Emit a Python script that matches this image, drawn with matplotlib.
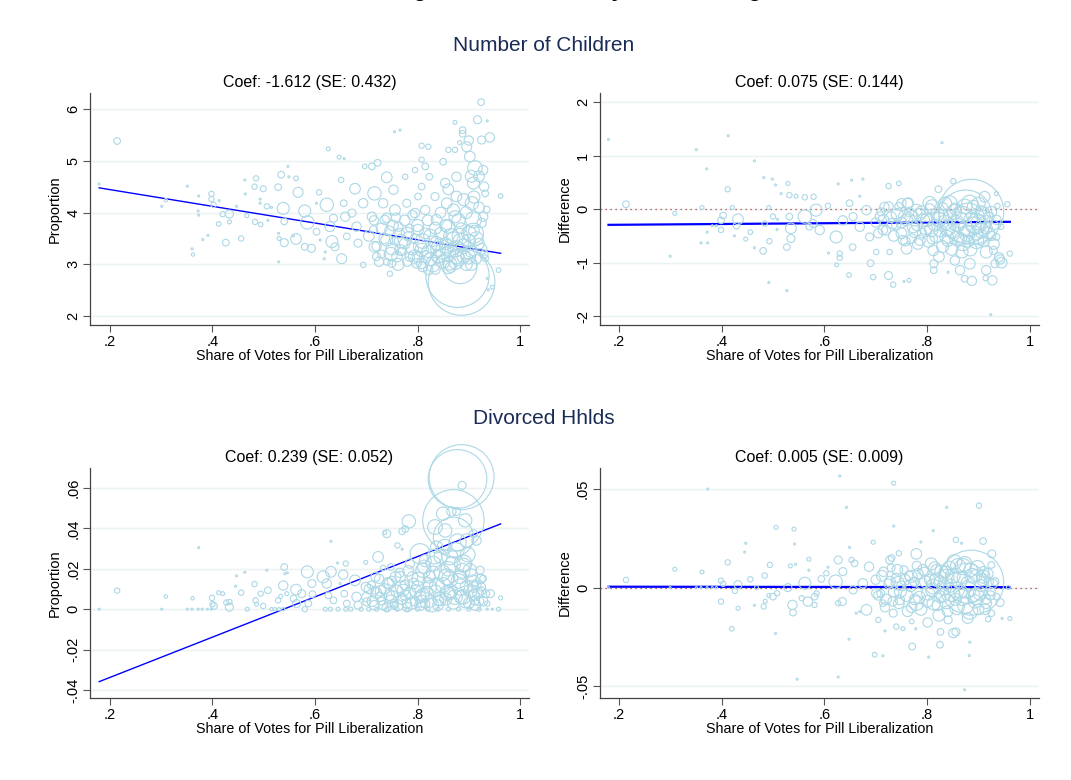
import matplotlib.pyplot as plt
import numpy as np

plt.rcParams['font.family'] = ['Liberation Sans', 'DejaVu Sans']

# x axis is shared by all panels
x_ticks = [0.2, 0.4, 0.6, 0.8, 1.0]
x_labels = ['.2', '.4', '.6', '.8', '1']

# points as (vote share, outcome, weight)
children_levels = [
    (0.179, 4.55, 9), (0.214, 5.38, 100), (0.301, 4.12, 9), (0.309, 4.24, 25), (0.351, 4.51, 9),
    (0.373, 4.32, 9), (0.372, 4.03, 9), (0.373, 3.95, 9), (0.360, 3.30, 9), (0.362, 3.19, 25),
    (0.381, 3.48, 9), (0.391, 3.56, 9), (0.398, 4.36, 64), (0.398, 4.26, 64), (0.402, 4.15, 64),
    (0.413, 4.23, 9), (0.420, 3.97, 64), (0.433, 3.97, 144), (0.433, 3.82, 36), (0.412, 3.78, 49),
    (0.426, 3.42, 100), (0.447, 4.12, 9), (0.456, 3.50, 64), (0.463, 4.63, 9), (0.464, 4.36, 9),
    (0.467, 3.94, 36), (0.485, 4.66, 64), (0.482, 4.50, 64), (0.493, 4.26, 9), (0.493, 4.18, 9),
    (0.483, 3.82, 64), (0.494, 3.77, 49), (0.499, 4.46, 81), (0.506, 4.12, 64), (0.508, 3.85, 9),
    (0.515, 4.10, 9), (0.528, 4.49, 100), (0.534, 4.73, 100), (0.547, 4.89, 9), (0.549, 4.69, 9),
    (0.563, 4.66, 49), (0.538, 4.08, 324), (0.529, 3.60, 9), (0.530, 3.50, 36), (0.529, 3.05, 9),
    (0.540, 3.42, 144), (0.540, 3.83, 100), (0.558, 3.55, 9), (0.567, 4.39, 225), (0.563, 3.49, 256),
    (0.580, 4.03, 324), (0.585, 3.81, 400), (0.580, 3.34, 100), (0.593, 3.31, 144), (0.608, 4.39, 64),
    (0.603, 4.18, 9), (0.603, 3.63, 100), (0.610, 3.47, 9), (0.620, 3.24, 9), (0.618, 3.11, 9),
    (0.626, 5.23, 36), (0.623, 4.15, 400), (0.629, 3.73, 225), (0.633, 3.44, 324), (0.636, 3.89, 144),
    (0.639, 3.34, 144), (0.647, 5.07, 36), (0.657, 5.04, 9), (0.651, 4.63, 64), (0.652, 3.11, 225),
    (0.656, 4.18, 100), (0.659, 3.92, 196), (0.662, 3.54, 100), (0.672, 3.99, 144), (0.678, 4.46, 256),
    (0.681, 3.73, 196), (0.684, 3.41, 144), (0.694, 4.18, 196), (0.694, 2.99, 64), (0.697, 4.89, 49),
    (0.711, 4.89, 100), (0.722, 4.96, 100), (0.716, 4.37, 400), (0.711, 3.92, 196), (0.714, 3.67, 144),
    (0.716, 3.34, 256), (0.720, 3.15, 144), (0.740, 4.68, 256), (0.733, 4.18, 196), (0.736, 3.86, 196),
    (0.740, 3.47, 324), (0.746, 2.82, 64), (0.753, 4.44, 196), (0.750, 3.02, 144), (0.755, 5.56, 9),
    (0.766, 5.59, 9), (0.756, 4.05, 256), (0.763, 3.73, 196), (0.766, 3.28, 256), (0.776, 4.69, 64),
    (0.779, 4.18, 144), (0.782, 3.54, 196), (0.785, 3.15, 196), (0.795, 4.82, 64), (0.795, 3.99, 196),
    (0.798, 3.02, 196), (0.808, 5.29, 64), (0.821, 5.27, 64), (0.808, 5.02, 64), (0.815, 4.89, 100),
    (0.808, 4.50, 100), (0.801, 4.31, 100), (0.815, 4.05, 196), (0.801, 3.67, 256), (0.808, 3.28, 400),
    (0.808, 3.02, 256), (0.821, 2.89, 196), (0.823, 4.69, 100), (0.834, 4.31, 144), (0.837, 3.86, 256),
    (0.837, 3.41, 400), (0.841, 3.15, 324), (0.850, 4.98, 100), (0.854, 4.57, 196), (0.857, 4.18, 256),
    (0.860, 3.73, 400), (0.857, 3.34, 484), (0.863, 3.02, 400), (0.860, 5.21, 64), (0.873, 5.21, 64),
    (0.873, 5.74, 36), (0.882, 5.35, 36), (0.888, 5.59, 100), (0.888, 5.52, 100), (0.876, 4.69, 196),
    (0.876, 4.31, 256), (0.873, 3.92, 324), (0.883, 3.54, 576), (0.876, 3.15, 484), (0.896, 5.27, 225),
    (0.900, 5.39, 196), (0.902, 5.08, 256), (0.912, 4.86, 484), (0.909, 4.57, 324), (0.906, 4.18, 400),
    (0.909, 3.86, 576), (0.909, 3.60, 900), (0.899, 3.15, 484), (0.917, 5.79, 144), (0.924, 6.13, 100),
    (0.936, 5.77, 9), (0.925, 5.40, 144), (0.941, 5.45, 196), (0.928, 4.82, 196), (0.928, 3.92, 196),
    (0.935, 4.06, 100), (0.932, 4.37, 100), (0.932, 3.12, 100), (0.936, 2.73, 9), (0.938, 2.51, 9),
    (0.946, 2.56, 36), (0.958, 2.89, 49), (0.962, 4.32, 49),
    (0.720, 3.35, 196), (0.730, 3.20, 144), (0.735, 3.50, 256), (0.740, 3.05, 100), (0.745, 3.65, 196),
    (0.750, 3.30, 324), (0.755, 3.45, 144), (0.760, 3.15, 256), (0.765, 3.60, 196), (0.770, 3.25, 144),
    (0.775, 3.40, 256), (0.780, 3.05, 196), (0.785, 3.70, 144), (0.790, 3.30, 324), (0.795, 3.50, 196),
    (0.800, 3.15, 256), (0.805, 3.35, 400), (0.810, 2.95, 196), (0.815, 3.60, 256), (0.820, 3.25, 324),
    (0.825, 3.10, 400), (0.830, 3.45, 256), (0.835, 2.90, 196), (0.840, 3.30, 484), (0.845, 3.60, 324),
    (0.850, 3.05, 400), (0.855, 3.40, 324), (0.860, 3.20, 484), (0.865, 2.95, 256), (0.870, 3.50, 400),
    (0.875, 3.30, 576), (0.880, 3.10, 400), (0.885, 3.70, 256), (0.890, 3.35, 484), (0.895, 3.00, 324),
    (0.900, 3.45, 400), (0.905, 3.25, 324), (0.910, 3.65, 256), (0.915, 3.10, 196), (0.920, 3.40, 256),
    (0.925, 3.80, 196), (0.930, 3.20, 144),
    (0.705, 3.55, 256), (0.715, 3.85, 196), (0.725, 3.05, 196), (0.730, 3.70, 256), (0.740, 3.90, 196),
    (0.748, 3.20, 400), (0.752, 3.75, 256), (0.758, 3.90, 196), (0.762, 3.00, 324), (0.768, 3.45, 400),
    (0.775, 3.85, 256), (0.780, 3.60, 324), (0.790, 3.95, 196), (0.795, 3.15, 400), (0.800, 3.75, 324),
    (0.810, 3.45, 484), (0.815, 3.15, 324), (0.820, 3.85, 256), (0.825, 3.55, 400), (0.830, 3.00, 484),
    (0.835, 3.70, 324), (0.840, 3.15, 400), (0.845, 4.00, 256), (0.850, 3.25, 576), (0.855, 3.75, 324),
    (0.860, 2.95, 400), (0.865, 3.55, 484), (0.870, 4.05, 324), (0.875, 3.05, 484), (0.880, 3.85, 400),
    (0.885, 3.45, 576), (0.890, 3.15, 400), (0.895, 4.00, 324), (0.900, 3.60, 484), (0.905, 3.00, 324),
    (0.910, 4.30, 324), (0.915, 3.50, 400), (0.920, 4.10, 256), (0.925, 3.30, 256), (0.930, 4.50, 196),
    (0.860, 4.45, 256), (0.890, 4.25, 324), (0.905, 4.70, 324), (0.920, 4.70, 256),
    (0.878, 2.78, 9000), (0.886, 2.66, 10000), (0.883, 2.95, 2500),
]

children_diff = [
    (0.180, 1.30, 9), (0.214, 0.09, 100), (0.300, -0.88, 9), (0.309, -0.08, 36), (0.351, 1.11, 9),
    (0.371, 0.75, 9), (0.362, 0.03, 36), (0.360, -0.63, 9), (0.373, -0.63, 9), (0.372, -0.43, 9),
    (0.382, -0.31, 9), (0.390, -0.31, 9), (0.399, -0.39, 64), (0.399, -0.21, 100), (0.403, -0.12, 100),
    (0.412, 0.37, 64), (0.413, 1.37, 9), (0.421, 0.03, 36), (0.425, -0.50, 9), (0.432, -0.19, 256),
    (0.429, -0.31, 100), (0.447, -0.56, 36), (0.456, -0.43, 49), (0.464, 0.90, 9), (0.464, -0.72, 9),
    (0.481, -0.78, 100), (0.482, 0.59, 9), (0.492, 0.03, 36), (0.484, -0.27, 64), (0.493, -0.60, 64),
    (0.492, -1.37, 9), (0.499, 0.56, 9), (0.505, 0.45, 9), (0.500, -0.14, 64), (0.509, -0.19, 9),
    (0.508, -0.38, 9), (0.516, 0.29, 9), (0.529, 0.48, 36), (0.527, -0.71, 100), (0.527, -1.52, 9),
    (0.532, 0.26, 64), (0.535, -0.55, 144), (0.535, -0.36, 256), (0.532, -0.14, 100), (0.545, 0.24, 36),
    (0.562, 0.22, 64), (0.579, 0.23, 64), (0.562, -0.14, 400), (0.578, -0.27, 144), (0.584, -0.02, 324),
    (0.591, -0.39, 196), (0.571, -0.33, 100), (0.607, 0.06, 64), (0.608, -0.82, 9), (0.623, -0.52, 324),
    (0.630, -0.83, 64), (0.630, -0.91, 64), (0.624, -1.04, 36), (0.627, 0.47, 9), (0.636, -0.21, 196),
    (0.648, -1.23, 49), (0.653, 0.54, 9), (0.649, 0.11, 100), (0.656, -0.14, 144), (0.655, -0.71, 100),
    (0.669, 0.24, 9), (0.675, 0.56, 9), (0.669, -0.33, 196), (0.682, -0.02, 196), (0.688, -0.52, 144),
    (0.695, -1.27, 64), (0.690, -1.01, 100), (0.701, -0.80, 64), (0.708, -0.14, 196), (0.714, -0.39, 196),
    (0.717, 0.04, 196), (0.725, -1.24, 144), (0.725, 0.43, 64), (0.727, -0.80, 64), (0.734, -1.41, 64),
    (0.733, -0.27, 256), (0.745, 0.48, 49), (0.750, 0.11, 196), (0.753, -0.58, 196), (0.756, -0.14, 324),
    (0.755, -1.35, 9), (0.765, -1.33, 36), (0.763, 0.11, 256), (0.760, -0.74, 256), (0.773, -0.33, 324),
    (0.779, -0.02, 324), (0.786, -0.58, 256), (0.792, -0.21, 400), (0.805, 0.11, 400), (0.808, -0.39, 400),
    (0.812, -0.77, 256), (0.813, -1.02, 144), (0.813, -1.14, 100), (0.822, 0.37, 100), (0.829, 1.24, 9),
    (0.823, -0.89, 256), (0.828, -0.14, 484), (0.841, -1.18, 9), (0.838, -0.52, 400), (0.844, 0.11, 484),
    (0.851, 0.52, 64), (0.854, -0.96, 196), (0.864, -1.14, 196), (0.857, -0.27, 576), (0.870, -0.64, 484),
    (0.873, -1.30, 100), (0.887, -1.34, 196), (0.883, -1.02, 256), (0.883, 0.11, 576), (0.896, -0.27, 900),
    (0.903, -0.52, 576), (0.909, -0.08, 400), (0.912, 0.23, 256), (0.915, -1.14, 196), (0.914, -1.29, 64),
    (0.927, -1.33, 196), (0.924, -1.97, 9), (0.942, -0.94, 196), (0.932, -1.02, 144), (0.935, 0.29, 36),
    (0.929, -0.77, 144), (0.935, -0.52, 100), (0.944, -0.33, 64), (0.937, 0.06, 64), (0.956, 0.09, 64),
    (0.961, -0.83, 64),
    (0.700, -0.25, 196), (0.710, -0.05, 144), (0.720, -0.40, 196), (0.730, -0.15, 256), (0.740, -0.30, 196),
    (0.745, 0.05, 144), (0.750, -0.45, 256), (0.760, -0.20, 324), (0.765, -0.05, 196), (0.770, -0.55, 196),
    (0.780, -0.30, 256), (0.785, -0.10, 324), (0.790, -0.45, 196), (0.800, -0.20, 400), (0.805, 0.00, 256),
    (0.810, -0.55, 256), (0.815, -0.30, 324), (0.820, -0.10, 400), (0.825, -0.40, 324), (0.830, 0.02, 256),
    (0.835, -0.25, 484), (0.840, -0.60, 256), (0.845, -0.15, 400), (0.850, -0.40, 484), (0.855, 0.00, 324),
    (0.860, -0.30, 400), (0.865, -0.55, 324), (0.870, -0.10, 576), (0.875, -0.35, 484), (0.880, -0.60, 324),
    (0.885, -0.20, 400), (0.890, 0.05, 324), (0.895, -0.45, 400), (0.900, -0.25, 484), (0.905, -0.05, 324),
    (0.910, -0.60, 256), (0.915, -0.35, 324), (0.920, -0.15, 256), (0.925, -0.50, 196), (0.930, -0.30, 196),
    (0.705, -0.45, 196), (0.715, -0.20, 256), (0.725, 0.05, 196), (0.735, -0.50, 256), (0.742, -0.10, 324),
    (0.750, -0.25, 256), (0.758, -0.60, 196), (0.762, 0.10, 256), (0.770, -0.15, 400), (0.776, -0.42, 324),
    (0.782, -0.65, 256), (0.790, -0.05, 324), (0.797, -0.35, 400), (0.803, -0.60, 324), (0.810, 0.05, 400),
    (0.818, -0.50, 400), (0.823, -0.20, 484), (0.830, -0.70, 324), (0.835, 0.10, 400), (0.840, -0.35, 576),
    (0.848, -0.75, 324), (0.853, -0.05, 484), (0.858, -0.55, 484), (0.863, -0.20, 576), (0.868, -0.80, 324),
    (0.873, 0.05, 484), (0.878, -0.45, 576), (0.884, -0.75, 400), (0.890, -0.30, 576), (0.896, -0.60, 484),
    (0.900, 0.10, 400), (0.906, -0.40, 484), (0.910, -0.15, 400), (0.915, -0.80, 324), (0.920, -0.45, 324),
    (0.925, -0.05, 256), (0.930, -0.65, 256), (0.935, -0.20, 196), (0.940, -0.90, 196), (0.945, -1.00, 256),
    (0.886, -0.05, 9500), (0.875, -0.14, 6400), (0.880, -0.20, 2500),
]

divorced_levels = [
    (0.179, 0.0, 9), (0.214, 0.0092, 64), (0.301, 0.0, 9), (0.309, 0.0063, 25), (0.373, 0.0305, 9),
    (0.351, 0.0, 9), (0.360, 0.0, 9), (0.372, 0.0, 9), (0.380, 0.0, 9), (0.390, 0.0, 9), (0.398, 0.0, 9),
    (0.361, 0.0054, 25), (0.399, 0.0056, 64), (0.400, 0.0025, 64), (0.403, 0.0016, 100), (0.412, 0.0082, 36),
    (0.420, 0.0077, 36), (0.427, 0.0033, 64), (0.433, 0.0036, 64), (0.433, 0.0010, 144), (0.445, 0.0114, 9),
    (0.447, 0.0165, 9), (0.456, 0.0082, 64), (0.463, 0.0183, 9), (0.468, 0.0, 36), (0.482, 0.0124, 64),
    (0.484, 0.0044, 64), (0.486, 0.0025, 36), (0.494, 0.0077, 64), (0.499, 0.0016, 64), (0.506, 0.0193, 9),
    (0.508, 0.0094, 100), (0.515, 0.0, 25), (0.522, 0.0, 25), (0.530, 0.0, 25), (0.538, 0.0, 25),
    (0.528, 0.0044, 64), (0.533, 0.0064, 36), (0.538, 0.0117, 196), (0.540, 0.0209, 100), (0.541, 0.0176, 9),
    (0.546, 0.0180, 9), (0.545, 0.0077, 36), (0.558, 0.0053, 100), (0.563, 0.0097, 256), (0.564, 0.0028, 144),
    (0.574, 0.0077, 144), (0.580, 0.0, 64), (0.585, 0.0185, 324), (0.594, 0.0127, 144), (0.595, 0.0074, 100),
    (0.587, 0.0028, 100), (0.616, 0.0160, 324), (0.623, 0.0127, 196), (0.631, 0.0336, 9), (0.631, 0.0185, 256),
    (0.626, 0.0069, 100), (0.636, 0.0044, 100), (0.644, 0.0229, 9), (0.649, 0.0127, 9), (0.655, 0.0171, 196),
    (0.660, 0.0226, 64), (0.657, 0.0077, 100), (0.662, 0.0028, 100), (0.678, 0.0143, 256), (0.681, 0.0061, 196),
    (0.684, 0.0020, 144), (0.699, 0.0232, 36), (0.699, 0.0110, 196), (0.701, 0.0036, 144), (0.723, 0.0259, 256),
    (0.733, 0.0204, 64), (0.717, 0.0094, 144), (0.727, 0.0061, 196), (0.740, 0.0374, 144), (0.736, 0.0379, 36),
    (0.748, 0.0209, 100), (0.745, 0.0127, 256), (0.751, 0.0061, 324), (0.754, 0.0020, 144), (0.761, 0.0316, 64),
    (0.770, 0.0297, 9), (0.770, 0.0386, 100), (0.776, 0.0397, 100), (0.783, 0.0435, 400), (0.766, 0.0160, 256),
    (0.772, 0.0094, 324), (0.779, 0.0028, 196), (0.785, 0.0226, 196), (0.792, 0.0127, 256), (0.805, 0.0061, 324),
    (0.805, 0.0275, 900), (0.811, 0.0193, 484), (0.815, 0.0028, 196), (0.824, 0.0110, 400), (0.831, 0.0226, 484),
    (0.834, 0.0407, 484), (0.837, 0.0308, 324), (0.841, 0.0044, 256), (0.850, 0.0473, 400), (0.854, 0.0390, 400),
    (0.857, 0.0160, 576), (0.863, 0.0259, 576), (0.863, 0.0077, 324), (0.887, 0.0613, 144), (0.876, 0.0484, 144),
    (0.866, 0.0484, 196), (0.893, 0.0440, 400), (0.896, 0.0340, 400), (0.889, 0.0226, 676), (0.883, 0.0160, 400),
    (0.889, 0.0061, 484), (0.902, 0.0193, 400), (0.909, 0.0110, 256), (0.912, 0.0044, 196), (0.915, 0.0340, 196),
    (0.909, 0.0374, 144), (0.922, 0.0193, 144), (0.928, 0.0152, 100), (0.925, 0.0110, 144), (0.933, 0.0077, 144),
    (0.942, 0.0077, 144), (0.936, 0.0028, 64), (0.962, 0.0056, 36), (0.958, 0.0, 36), (0.946, 0.0, 9),
    (0.936, 0.0, 9),
    (0.620, 0.0, 36), (0.630, 0.0, 36), (0.645, 0.0, 36), (0.660, 0.0, 36), (0.670, 0.0, 36), (0.690, 0.0, 36),
    (0.705, 0.0, 36), (0.720, 0.0, 36), (0.740, 0.0, 36), (0.760, 0.0, 36), (0.780, 0.0, 36), (0.800, 0.0, 36),
    (0.820, 0.0, 36), (0.840, 0.0, 36), (0.860, 0.0, 36), (0.880, 0.0, 36), (0.900, 0.0, 36), (0.920, 0.0, 36),
    (0.700, 0.006, 196), (0.710, 0.012, 144), (0.715, 0.002, 196), (0.720, 0.008, 256), (0.725, 0.015, 196),
    (0.730, 0.004, 144), (0.735, 0.010, 256), (0.740, 0.001, 196), (0.745, 0.007, 256), (0.750, 0.014, 196),
    (0.755, 0.003, 144), (0.760, 0.009, 324), (0.765, 0.018, 196), (0.770, 0.005, 256), (0.775, 0.012, 196),
    (0.780, 0.001, 196), (0.785, 0.008, 324), (0.790, 0.016, 256), (0.795, 0.004, 196), (0.800, 0.011, 324),
    (0.805, 0.002, 256), (0.810, 0.007, 400), (0.815, 0.024, 324), (0.820, 0.013, 256), (0.825, 0.004, 324),
    (0.830, 0.018, 400), (0.835, 0.009, 324), (0.840, 0.002, 256), (0.845, 0.026, 400), (0.850, 0.012, 484),
    (0.855, 0.005, 324), (0.860, 0.020, 484), (0.865, 0.009, 400), (0.870, 0.003, 324), (0.875, 0.029, 576),
    (0.880, 0.014, 484), (0.885, 0.006, 400), (0.890, 0.022, 400), (0.895, 0.011, 324), (0.900, 0.003, 256),
    (0.905, 0.017, 324), (0.910, 0.007, 256), (0.915, 0.012, 196), (0.920, 0.004, 196), (0.925, 0.009, 144),
    (0.705, 0.010, 196), (0.712, 0.004, 256), (0.718, 0.016, 196), (0.728, 0.009, 256), (0.733, 0.002, 196),
    (0.742, 0.013, 256), (0.748, 0.004, 324), (0.757, 0.016, 256), (0.762, 0.002, 256), (0.768, 0.011, 324),
    (0.776, 0.007, 256), (0.782, 0.019, 256), (0.788, 0.003, 324), (0.797, 0.009, 324), (0.802, 0.015, 400),
    (0.808, 0.004, 324), (0.813, 0.021, 400), (0.818, 0.008, 400), (0.823, 0.016, 324), (0.828, 0.002, 400),
    (0.833, 0.026, 484), (0.838, 0.012, 484), (0.843, 0.005, 400), (0.848, 0.018, 576), (0.853, 0.031, 484),
    (0.858, 0.008, 484), (0.863, 0.015, 576), (0.868, 0.022, 576), (0.873, 0.006, 484), (0.878, 0.033, 676),
    (0.883, 0.011, 576), (0.888, 0.019, 484), (0.893, 0.004, 400), (0.898, 0.027, 484), (0.903, 0.009, 400),
    (0.908, 0.014, 324), (0.913, 0.002, 256), (0.918, 0.008, 256), (0.923, 0.015, 196), (0.928, 0.004, 196),
    (0.870, 0.0440, 8500), (0.870, 0.0357, 3600), (0.886, 0.0654, 9500), (0.878, 0.0645, 7744),
]

divorced_diff = [
    (0.180, 0.0, 9), (0.214, 0.0039, 64), (0.300, 0.0, 9), (0.309, 0.0093, 36), (0.373, 0.0500, 9),
    (0.362, 0.0079, 36), (0.351, 0.0, 9), (0.360, 0.0, 9), (0.372, 0.0, 9), (0.382, 0.0, 9), (0.390, 0.0, 9),
    (0.399, 0.0035, 64), (0.399, -0.0071, 64), (0.403, 0.0019, 64), (0.412, 0.0128, 64), (0.420, -0.0209, 49),
    (0.426, -0.0017, 64), (0.432, 0.0015, 144), (0.432, -0.0105, 36), (0.445, 0.0180, 9), (0.447, 0.0225, 9),
    (0.456, 0.0042, 64), (0.464, -0.0090, 9), (0.468, 0.0, 36), (0.484, 0.0061, 64), (0.482, -0.0096, 64),
    (0.485, -0.0069, 36), (0.492, -0.0040, 36), (0.494, 0.0115, 64), (0.500, -0.0046, 100), (0.506, 0.0306, 36),
    (0.505, -0.0233, 9), (0.508, -0.0029, 64), (0.529, 0.0, 144), (0.534, 0.0110, 36), (0.541, 0.0297, 36),
    (0.542, 0.0221, 9), (0.544, 0.0118, 9), (0.547, -0.0465, 9), (0.538, -0.0088, 196), (0.539, -0.0127, 100),
    (0.562, 0.0022, 324), (0.570, 0.0144, 36), (0.570, 0.0088, 9), (0.568, -0.0071, 196), (0.556, -0.0054, 64),
    (0.581, -0.0046, 100), (0.581, -0.0088, 64), (0.585, -0.0030, 64), (0.594, 0.0044, 100), (0.607, 0.0103, 9),
    (0.604, 0.0073, 64), (0.622, 0.0030, 400), (0.627, 0.0140, 144), (0.627, -0.0454, 9), (0.627, -0.0079, 64),
    (0.630, 0.0566, 9), (0.635, -0.0071, 144), (0.643, 0.0407, 9), (0.636, 0.0081, 144), (0.648, -0.0262, 9),
    (0.649, 0.0204, 9), (0.653, 0.0140, 64), (0.656, -0.0012, 144), (0.659, 0.0123, 100), (0.662, -0.0130, 9),
    (0.669, -0.0122, 9), (0.675, 0.0022, 196), (0.682, -0.0113, 256), (0.687, 0.0106, 196), (0.695, 0.0230, 36),
    (0.698, -0.0341, 49), (0.714, -0.0346, 9), (0.701, -0.0029, 196), (0.705, -0.0164, 64), (0.718, -0.0220, 9),
    (0.714, -0.0079, 100), (0.727, 0.0140, 144), (0.735, 0.0530, 36), (0.735, 0.0312, 9), (0.731, 0.0150, 100),
    (0.734, -0.0130, 144), (0.740, -0.0198, 64), (0.745, 0.0174, 64), (0.743, 0.0022, 400), (0.747, -0.0063, 196),
    (0.753, -0.0208, 36), (0.771, -0.0299, 100), (0.779, 0.0171, 256), (0.779, -0.0079, 484), (0.769, 0.0056, 324),
    (0.770, -0.0172, 49), (0.778, -0.0209, 9), (0.788, 0.0231, 9), (0.792, 0.0090, 256), (0.801, -0.0177, 196),
    (0.803, -0.0353, 9), (0.812, 0.0289, 9), (0.812, 0.0005, 484), (0.818, 0.0090, 256), (0.825, -0.0046, 324),
    (0.826, -0.0225, 100), (0.825, -0.0290, 100), (0.838, 0.0407, 9), (0.841, -0.0164, 144), (0.838, 0.0056, 484),
    (0.851, -0.0231, 196), (0.856, -0.0225, 144), (0.856, 0.0242, 64), (0.867, 0.0225, 9), (0.857, -0.0012, 576),
    (0.873, -0.0519, 9), (0.883, -0.0277, 9), (0.882, -0.0345, 9), (0.879, -0.0155, 256), (0.870, 0.0106, 576),
    (0.896, -0.0046, 576), (0.901, 0.0416, 64), (0.909, 0.0236, 100), (0.909, 0.0056, 400), (0.915, -0.0079, 256),
    (0.926, 0.0171, 144), (0.925, 0.0115, 100), (0.925, -0.0130, 100), (0.919, -0.0160, 64), (0.932, 0.0030, 144),
    (0.935, -0.0046, 100), (0.942, -0.0076, 144), (0.946, -0.0157, 9), (0.961, -0.0157, 36), (0.958, 0.0, 36),
    (0.700, 0.004, 196), (0.710, -0.003, 144), (0.715, 0.008, 196), (0.720, -0.006, 256), (0.725, 0.002, 196),
    (0.730, 0.010, 144), (0.735, -0.002, 256), (0.740, 0.005, 196), (0.745, -0.008, 256), (0.750, 0.001, 196),
    (0.755, 0.009, 144), (0.760, -0.004, 324), (0.765, 0.006, 196), (0.770, -0.010, 256), (0.775, 0.003, 196),
    (0.780, 0.011, 196), (0.785, -0.005, 324), (0.790, 0.002, 256), (0.795, 0.008, 196), (0.800, -0.007, 324),
    (0.805, 0.004, 256), (0.810, -0.001, 400), (0.815, 0.010, 324), (0.820, -0.009, 256), (0.825, 0.003, 324),
    (0.830, -0.004, 400), (0.835, 0.008, 324), (0.840, -0.012, 256), (0.845, 0.001, 400), (0.850, 0.006, 484),
    (0.855, -0.006, 324), (0.860, 0.011, 484), (0.865, -0.002, 400), (0.870, 0.005, 324), (0.875, -0.009, 576),
    (0.880, 0.002, 484), (0.885, 0.009, 400), (0.890, -0.004, 400), (0.895, 0.006, 324), (0.900, -0.011, 256),
    (0.905, 0.001, 324), (0.910, 0.008, 256), (0.915, -0.006, 196), (0.920, 0.003, 196), (0.925, -0.002, 144),
    (0.705, -0.004, 196), (0.712, 0.006, 256), (0.718, -0.010, 196), (0.728, 0.003, 256), (0.733, -0.007, 196),
    (0.742, 0.009, 256), (0.748, -0.002, 324), (0.757, 0.004, 256), (0.762, -0.012, 256), (0.768, 0.001, 324),
    (0.776, -0.006, 256), (0.782, 0.007, 256), (0.788, -0.011, 324), (0.797, 0.003, 324), (0.802, -0.003, 400),
    (0.808, 0.012, 324), (0.813, -0.008, 400), (0.818, 0.004, 400), (0.823, -0.014, 324), (0.828, 0.008, 400),
    (0.833, 0.000, 484), (0.838, -0.007, 484), (0.843, 0.010, 400), (0.848, -0.003, 576), (0.853, 0.013, 484),
    (0.858, -0.010, 484), (0.863, 0.004, 576), (0.868, -0.005, 576), (0.873, 0.012, 484), (0.878, -0.001, 676),
    (0.883, -0.012, 576), (0.888, 0.006, 484), (0.893, -0.007, 400), (0.898, 0.010, 484), (0.903, -0.003, 400),
    (0.908, 0.004, 324), (0.913, -0.011, 256), (0.918, 0.007, 256), (0.923, -0.004, 196), (0.928, 0.002, 196),
    (0.886, 0.0025, 9500), (0.877, 0.0022, 3600),
]

# fitted line (intercept, slope) as drawn, and the reported coefficient
fit_lines = [(4.765, -1.612), (-0.307, 0.072), (-0.0537, 0.0997), (0.0005, -0.0003)]
coefs = [(-1.612, 0.432), (0.075, 0.144), (0.239, 0.052), (0.005, 0.009)]

section_titles = ['Number of Children', 'Divorced Hhlds']
y_titles = ['Proportion', 'Difference', 'Proportion', 'Difference']
y_ticks = [[2, 3, 4, 5, 6], [-2, -1, 0, 1, 2],
           [-0.04, -0.02, 0, 0.02, 0.04, 0.06], [-0.05, 0, 0.05]]
y_tick_labels = [['2', '3', '4', '5', '6'], ['-2', '-1', '0', '1', '2'],
                 ['-.04', '-.02', '0', '.02', '.04', '.06'], ['-.05', '0', '.05']]
y_limits = [(1.826, 6.31), (-2.168, 2.17), (-0.044, 0.0699), (-0.0561, 0.0607)]

panel_data = [children_levels, children_diff, divorced_levels, divorced_diff]

fig = plt.figure(figsize=(10.71, 7.80), dpi=100)
fig.patch.set_facecolor('white')

# title of the whole figure sits mostly above the canvas, as in the source
fig.text(0.523, 1.0045, 'Changes in Outcomes by Local Voting', ha='center', va='baseline',
         fontsize=16, fontweight='bold', color='black')

fig.text(0.508, 0.942, section_titles[0], ha='center', va='center', fontsize=15, color='#1a2b56')
fig.text(0.508, 0.463, section_titles[1], ha='center', va='center', fontsize=15, color='#1a2b56')

positions = [[0.084, 0.583, 0.41, 0.298], [0.560, 0.583, 0.41, 0.298],
             [0.084, 0.105, 0.41, 0.295], [0.560, 0.105, 0.41, 0.295]]
x_limits = [(0.161, 1.0176), (0.163, 1.0175), (0.161, 1.0176), (0.163, 1.0175)]
line_widths = [1.0, 1.6, 1.0, 1.6]

for i in range(4):
    ax = fig.add_axes(positions[i])
    pts = np.array(panel_data[i])
    xs, ys, ws = pts[:, 0], pts[:, 1], pts[:, 2]

    for yt in y_ticks[i]:
        ax.axhline(yt, color='#eaf2f3', lw=1.0, zorder=0)

    if i % 2 == 1:
        ax.axhline(0, color='#b03a3a', lw=0.9, ls=(0, (1, 3)), zorder=1)

    a, b = fit_lines[i]
    lx = np.array([xs.min(), xs.max()])
    ax.plot(lx, a + b * lx, color='#0000ff', lw=line_widths[i], zorder=2)

    ax.scatter(xs, ys, s=ws * 0.23, facecolors='none', edgecolors='#add8e6',
               linewidths=0.8, zorder=3, clip_on=False)

    ax.set_xlim(x_limits[i])
    ax.set_ylim(y_limits[i])
    ax.set_xticks(x_ticks)
    ax.set_xticklabels(x_labels)
    ax.set_yticks(y_ticks[i])
    ax.set_yticklabels(y_tick_labels[i], rotation=90, va='center')
    ax.tick_params(axis='both', labelsize=10.5, length=5, width=0.8, color='#555555', pad=2)

    c, se = coefs[i]
    ax.set_title('Coef: {:.3f} (SE: {:.3f})'.format(c, se), fontsize=11.5, pad=4)
    ax.set_xlabel('Share of Votes for Pill Liberalization', fontsize=10.3, labelpad=0)
    ax.set_ylabel(y_titles[i], fontsize=10.5, labelpad=3)

    for side in ['top', 'right']:
        ax.spines[side].set_visible(False)
    for side in ['left', 'bottom']:
        ax.spines[side].set_color('#444444')
        ax.spines[side].set_linewidth(0.9)

plt.savefig('out.png', dpi=100)
